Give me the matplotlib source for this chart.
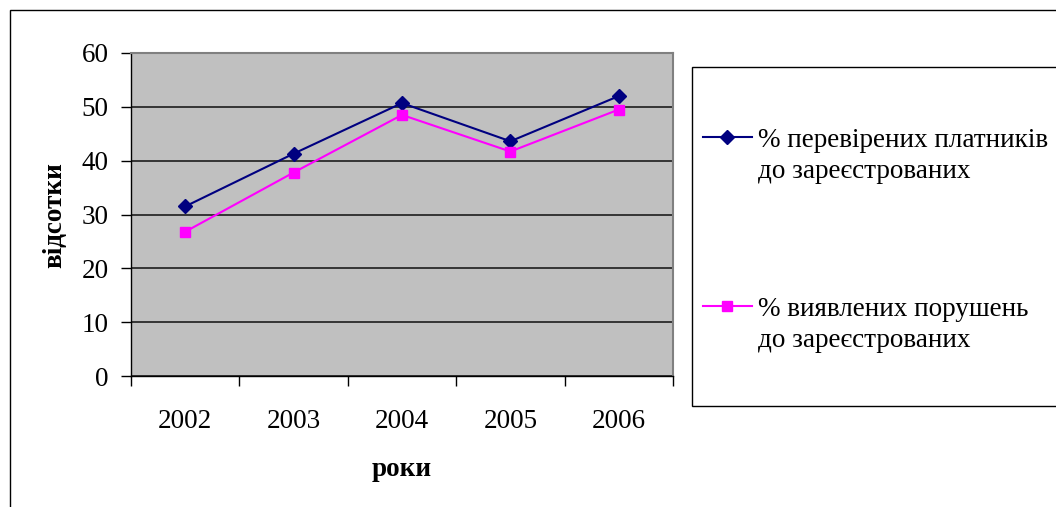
import matplotlib
matplotlib.use("Agg")
import matplotlib.pyplot as plt
from matplotlib.lines import Line2D
from matplotlib.patches import Rectangle
import numpy as np

plt.rcParams['font.family'] = ['Liberation Serif', 'DejaVu Serif']

years = ['2002', '2003', '2004', '2005', '2006']
checked_pct = [31.5, 41.3, 50.7, 43.6, 52.0]
violations_pct = [26.8, 37.8, 48.5, 41.7, 49.5]
series_labels = ['% перевірених платників\nдо зареєстрованих',
                 '% виявлених порушень\nдо зареєстрованих']
y_label = 'відсотки'
x_label = 'роки'

W, H = 1056, 507
FS = 19.5
fig = plt.figure(figsize=(W / 100, H / 100), dpi=100)


def fx(px):
    return px / W


def fy(py):
    return 1 - py / H


# outer chart frame (runs off the right and bottom edges)
fig.add_artist(Rectangle((fx(10), fy(530)), fx(1100), fy(10) - fy(530),
                         transform=fig.transFigure, fill=False,
                         edgecolor='black', lw=1.0, clip_on=False))

left, right, top, bottom = 131, 673, 53, 376
ax = fig.add_axes([fx(left), fy(bottom), fx(right - left), fy(top) - fy(bottom)])
ax.set_facecolor('#C0C0C0')

x = np.arange(len(years)) + 0.5
ax.plot(x, checked_pct, color='#000080', lw=1.5, marker='D', markersize=7.5,
        markerfacecolor='#000080', markeredgecolor='#000080', zorder=3)
ax.plot(x, violations_pct, color='#FF00FF', lw=1.5, marker='s', markersize=7,
        markerfacecolor='#FF00FF', markeredgecolor='#FF00FF', zorder=3)

ax.set_xlim(0, len(years))
ax.set_ylim(0, 60)
ax.set_yticks(np.arange(0, 61, 10))
ax.yaxis.grid(True, color='#2a2a2a', lw=1.3)
ax.set_axisbelow(True)

ax.set_xticks(np.arange(0, len(years) + 1))
ax.set_xticklabels([])
ax.set_xticks(x, minor=True)
ax.set_xticklabels(years, minor=True)
ax.tick_params(axis='x', which='major', direction='out', length=7, width=1, color='black')
ax.tick_params(axis='x', which='minor', length=0, pad=24, labelsize=FS)
ax.tick_params(axis='y', direction='out', length=7, width=1, color='black', pad=9, labelsize=FS)

for s in ['top', 'right']:
    ax.spines[s].set_color('#808080')
    ax.spines[s].set_linewidth(1.5)
for s in ['left', 'bottom']:
    ax.spines[s].set_color('black')
    ax.spines[s].set_linewidth(1.0)

fig.text(fx(55), fy(215), y_label, rotation=90, ha='center', va='center',
         fontsize=FS, fontweight='bold')
fig.text(fx(402), fy(470), x_label, ha='center', va='center',
         fontsize=FS, fontweight='bold')

# legend box
fig.add_artist(Rectangle((fx(692), fy(406)), fx(500), fy(67) - fy(406),
                         transform=fig.transFigure, facecolor='white',
                         edgecolor='black', lw=1.0, clip_on=False))
entries = [('#000080', 'D', 7, 137, 156), ('#FF00FF', 's', 6.5, 306, 325)]
for (col, mk, ms, ly, ty), lab in zip(entries, series_labels):
    fig.add_artist(Line2D([fx(703), fx(752)], [fy(ly), fy(ly)], color=col, lw=1.5,
                          transform=fig.transFigure))
    fig.add_artist(Line2D([fx(727)], [fy(ly)], color=col, marker=mk, markersize=ms,
                          transform=fig.transFigure))
    fig.text(fx(758), fy(ty), lab, ha='left', va='center', fontsize=FS,
             linespacing=1.3)

fig.savefig('out.png', dpi=100)
